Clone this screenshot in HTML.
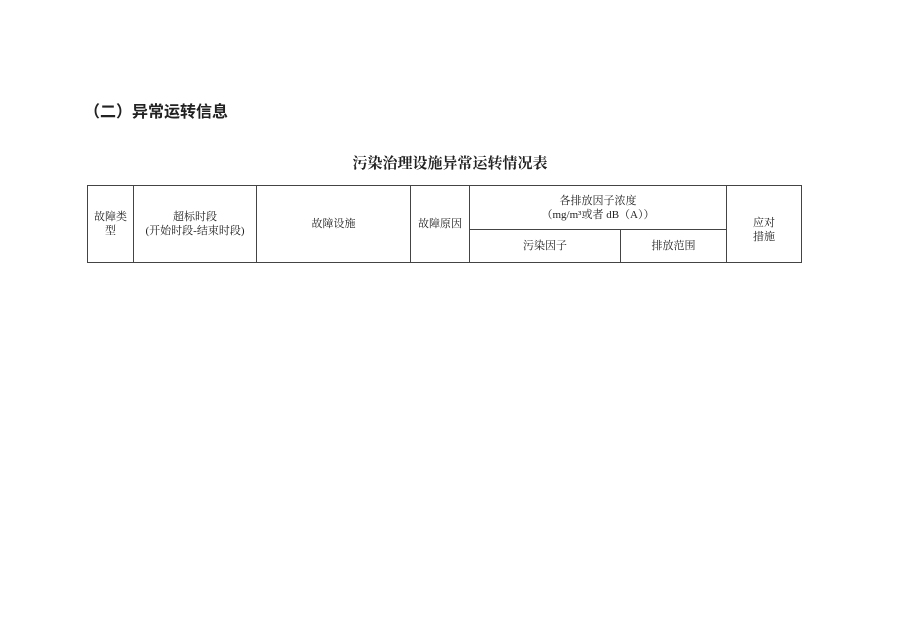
<!DOCTYPE html>
<html><head><meta charset="utf-8"><style>
body{margin:0;width:900px;height:635px;background:#fff;position:relative;font-family:"Liberation Serif","Noto Serif CJK SC",serif;color:#222;overflow:hidden}
.h{position:absolute;left:84px;top:98px;font-size:16px;font-weight:bold;font-family:"Liberation Sans","Noto Sans CJK SC",sans-serif}
.t{position:absolute;left:0;width:900px;top:152px;text-align:center;font-size:15px;font-weight:bold}
.l{position:absolute;background:#444}
.c{position:absolute;font-size:11px;text-align:center;line-height:14px}
</style></head><body>
<div class="h">（二）异常运转信息</div>
<div class="t">污染治理设施异常运转情况表</div>
<div class="l" style="left:87px;top:185px;width:715px;height:1px"></div>
<div class="l" style="left:87px;top:262px;width:715px;height:1px"></div>
<div class="l" style="left:469px;top:229px;width:257px;height:1px"></div>
<div class="l" style="left:87px;top:185px;width:1px;height:78px"></div>
<div class="l" style="left:133px;top:185px;width:1px;height:78px"></div>
<div class="l" style="left:256px;top:185px;width:1px;height:78px"></div>
<div class="l" style="left:410px;top:185px;width:1px;height:78px"></div>
<div class="l" style="left:469px;top:185px;width:1px;height:78px"></div>
<div class="l" style="left:620px;top:229px;width:1px;height:34px"></div>
<div class="l" style="left:726px;top:185px;width:1px;height:78px"></div>
<div class="l" style="left:801px;top:185px;width:1px;height:78px"></div>
<div class="c" style="left:88px;width:45px;top:210px">故障类<br>型</div>
<div class="c" style="left:134px;width:122px;top:210px">超标时段<br>(开始时段-结束时段)</div>
<div class="c" style="left:257px;width:153px;top:217px">故障设施</div>
<div class="c" style="left:411px;width:58px;top:217px">故障原因</div>
<div class="c" style="left:470px;width:256px;top:194px">各排放因子浓度<br>（mg/m³或者 dB（A））</div>
<div class="c" style="left:470px;width:150px;top:239px">污染因子</div>
<div class="c" style="left:621px;width:105px;top:239px">排放范围</div>
<div class="c" style="left:727px;width:74px;top:216px">应对<br>措施</div>
</body></html>
